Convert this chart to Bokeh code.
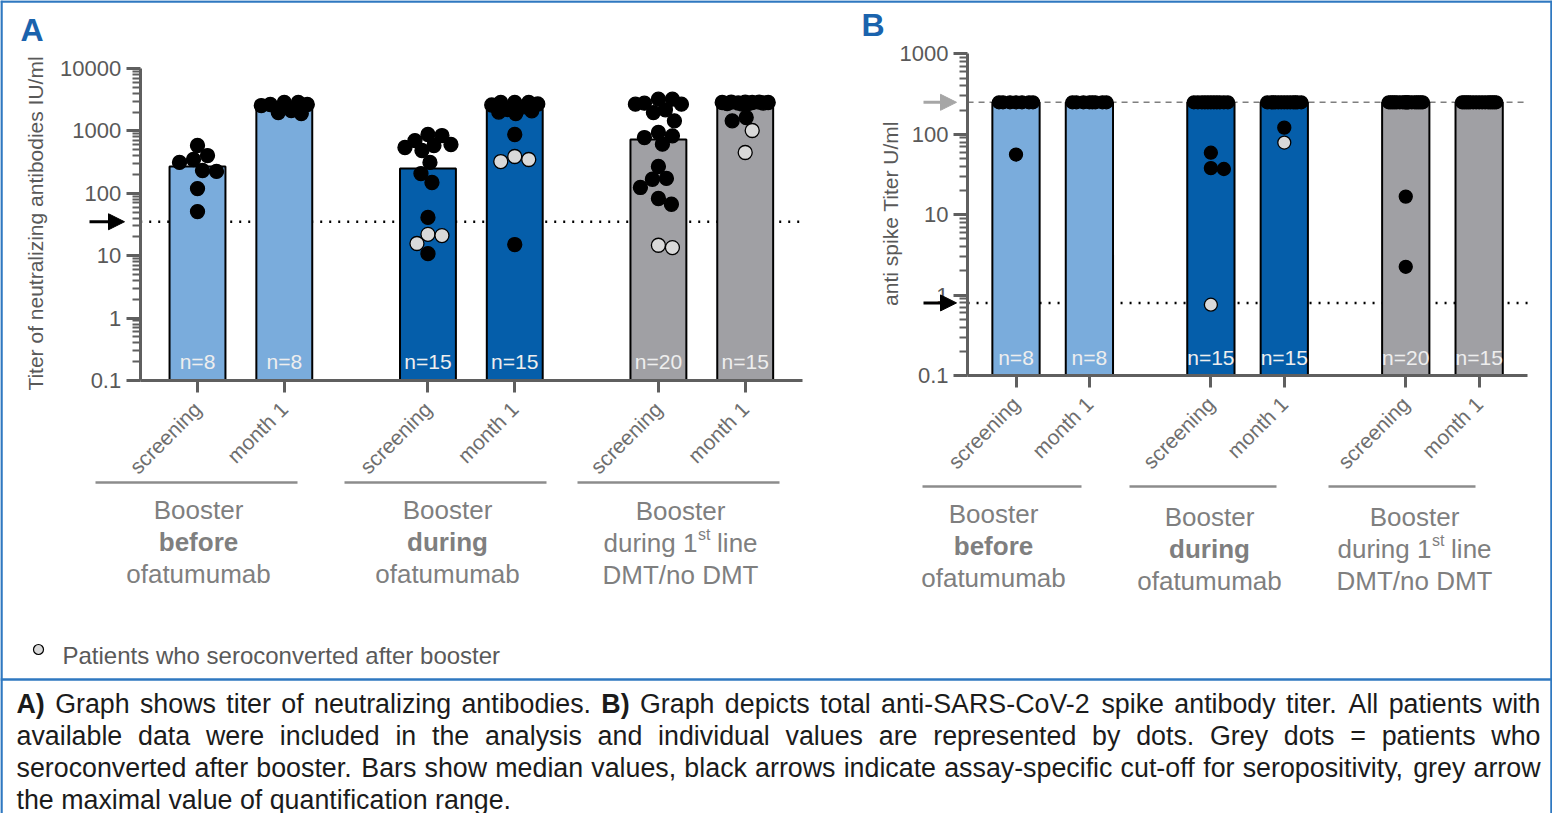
import math
from bokeh.plotting import figure
from bokeh.models import (Range1d, LogScale, LinearAxis, LogAxis, FixedTicker,
                          Arrow, NormalHead, ColumnDataSource)
from bokeh.embed import file_html
from bokeh.resources import INLINE
from bokeh.core.properties import value

FONT = "Liberation Sans"

# ------------------------------------------------------------------ data
timepoints = ["screening", "month 1"]
group_labels = [
    ["Booster", "before", "ofatumumab"],
    ["Booster", "during", "ofatumumab"],
    ["Booster", "during 1|st| line", "DMT/no DMT"],
]
bold_line = [True, True, False]

# Panel A: titer of neutralizing antibodies (IU/ml)
a_median = [270, 2600, 250, 2200, 730, 2650]
a_black = [
    [403, 348, 583, 312, 232, 224, 119, 51],
    [2120, 2850, 2650, 1970, 2850, 1900, 2550, 2650],
    [583, 605, 843, 875, 485, 542, 700, 312, 207, 149, 41, 10.8],
    [2850, 2600, 2850, 2400, 2850, 2000, 2200, 2700, 1900, 2100, 875, 15.1],
    [2680, 2780, 3220, 2680, 3220, 2180, 1970, 1450, 942, 834, 783, 612,
     269, 173, 168, 124, 82.6, 66.8],
    [2900, 2850, 2800, 2900, 2750, 2850, 2900, 2800, 2700, 2850, 2750, 1640, 1450],
]
a_grey = [[], [], [22, 21, 15.7], [389, 348, 323], [14.7, 13.5], [1014, 451]]
a_cutoff = 35
a_ticks = [0.1, 1, 10, 100, 1000, 10000]

# Panel B: anti spike titer (U/ml)
b_median = [250, 250, 250, 250, 250, 250]
b_black = [
    [250, 250, 250, 250, 250, 250, 250, 56],
    [250, 250, 250, 250, 250, 250, 250, 250],
    [250, 250, 250, 250, 250, 250, 250, 250, 250, 250, 250, 59, 38, 37],
    [250, 250, 250, 250, 250, 250, 250, 250, 250, 250, 250, 250, 250, 121],
    [250, 250, 250, 250, 250, 250, 250, 250, 250, 250, 250, 250, 250, 250,
     250, 250, 250, 250, 16.8, 2.25],
    [250, 250, 250, 250, 250, 250, 250, 250, 250, 250, 250, 250, 250, 250, 250],
]
b_grey = [[], [], [0.76], [79], [], []]
b_cutoff = 0.8
b_quant_max = 250
b_ticks = [0.1, 1, 10, 100, 1000]

bar_colors = ["#7aacdc", "#7aacdc", "#055eaa", "#055eaa", "#a0a0a4", "#a0a0a4"]

caption_lines = [
    "A) Graph shows titer of neutralizing antibodies. B) Graph depicts total anti-SARS-CoV-2 spike antibody titer. All patients with",
    "available data were included in the analysis and individual values are represented by dots. Grey dots = patients who",
    "seroconverted after booster. Bars show median values, black arrows indicate assay-specific cut-off for seropositivity, grey arrow",
    "the maximal value of quantification range.",
]
legend_text = "Patients who seroconverted after booster"

# ------------------------------------------------------------------ helpers
RW = {' ': 278, '!': 278, '"': 355, '#': 556, '$': 556, '%': 889, '&': 667, "'": 191,
      '(': 333, ')': 333, '*': 389, '+': 584, ',': 278, '-': 333, '.': 278, '/': 278,
      ':': 278, ';': 278, '<': 584, '=': 584, '>': 584, '?': 556, '@': 1015,
      'A': 667, 'B': 667, 'C': 722, 'D': 722, 'E': 667, 'F': 611, 'G': 778, 'H': 722,
      'I': 278, 'J': 500, 'K': 667, 'L': 556, 'M': 833, 'N': 722, 'O': 778, 'P': 667,
      'Q': 778, 'R': 722, 'S': 667, 'T': 611, 'U': 722, 'V': 667, 'W': 944, 'X': 667,
      'Y': 667, 'Z': 611, 'a': 556, 'b': 556, 'c': 500, 'd': 556, 'e': 556, 'f': 278,
      'g': 556, 'h': 556, 'i': 222, 'j': 222, 'k': 500, 'l': 222, 'm': 833, 'n': 556,
      'o': 556, 'p': 556, 'q': 556, 'r': 333, 's': 500, 't': 278, 'u': 556, 'v': 500,
      'w': 722, 'x': 500, 'y': 500, 'z': 500}
for _d in "0123456789":
    RW[_d] = 556
BW = dict(RW)
BW.update({'A': 722, 'B': 722, ')': 333})


def tw(s, size, bold=False):
    tab = BW if bold else RW
    return sum(tab.get(ch, 556) for ch in s) / 1000.0 * size


W, H = 1552, 813
BORDER = "#2f78c0"
p = figure(width=W, height=H, output_backend="svg", toolbar_location=None,
           x_axis_type=None, y_axis_type=None, min_border=0,
           x_range=Range1d(8, 1560), y_range=Range1d(821, 8),
           outline_line_color=None,
           background_fill_color="white", border_fill_color="white")


def txt(x, y, s, size, color, align="center", bold=False, xr="default", yr="default",
        angle=0.0, baseline="middle"):
    p.text(x=[x], y=[y], text=[s], text_font=value(FONT), text_font_size=f"{size}px",
           text_color=color, text_align=align, text_baseline=baseline,
           text_font_style="bold" if bold else "normal", angle=angle,
           x_range_name=xr, y_range_name=yr)


def swarm(vals, dec, diam, maxw):
    n = len(vals)
    order = sorted(range(n), key=lambda i: -vals[i])
    cands = sorted(range(-maxw, maxw + 1), key=lambda c: (abs(c), c < 0))
    placed, offs = [], [0.0] * n
    thr = (1.0 * diam) ** 2
    for i in order:
        y = math.log10(vals[i]) * dec
        best = None
        for c in cands:
            if all((c - px) ** 2 + (y - py) ** 2 >= thr for px, py in placed):
                best = c
                break
        if best is None:
            best = max(cands, key=lambda c: min((c - px) ** 2 + (y - py) ** 2
                                                 for px, py in placed))
        placed.append((best, y))
        offs[i] = best
    return offs


GROUP_STEP = 2.655
BAR_W = 0.644
XMIN, XMAX = -0.66, 6.97
xpos = [g * GROUP_STEP + t for g in range(3) for t in range(2)]
xlab = [timepoints[t] for g in range(3) for t in range(2)]

panels = {
    "a": dict(c0=205.0, unit=86.8, ybase=388.0, dec=62.4),
    "b": dict(c0=1023.5, unit=73.4, ybase=383.0, dec=80.4),
}
exr, eyr, eys = {}, {}, {}
for k, c in panels.items():
    exr["x" + k] = Range1d((8 - c["c0"]) / c["unit"], (1560 - c["c0"]) / c["unit"])
    lo = -1 - (821 - c["ybase"]) / c["dec"]
    hi = -1 + (c["ybase"] - 8) / c["dec"]
    eyr["y" + k] = Range1d(10 ** lo, 10 ** hi)
    eys["y" + k] = LogScale()
p.extra_x_ranges = exr
p.extra_y_ranges = eyr
p.extra_y_scales = eys

AX = "#5f5f5f"


def draw_panel(k, medians, blacks, greys, ticks, diam, maxw, n_y):
    c = panels[k]
    xn, yn = "x" + k, "y" + k
    # bars
    p.vbar(x=xpos, top=medians, bottom=ticks[0], width=BAR_W, fill_color=bar_colors,
           line_color="black", line_width=2, x_range_name=xn, y_range_name=yn)
    # dots
    xs, ys, fc = [], [], []
    for i in range(6):
        vals = blacks[i] + greys[i]
        offs = swarm(vals, c["dec"], diam, maxw)
        cols = ["black"] * len(blacks[i]) + ["#d9d9d9"] * len(greys[i])
        for v, o, col in zip(vals, offs, cols):
            xs.append(xpos[i] + o / c["unit"])
            ys.append(v)
            fc.append(col)
    idx = sorted(range(len(xs)), key=lambda j: fc[j] != "black")
    src = ColumnDataSource(dict(x=[xs[j] for j in idx], y=[ys[j] for j in idx],
                                fc=[fc[j] for j in idx]))
    p.scatter(x="x", y="y", source=src, size=diam, fill_color="fc", line_color="black",
              line_width=1.3, x_range_name=xn, y_range_name=yn)
    # n labels
    ns = [f"n={len(blacks[i]) + len(greys[i])}" for i in range(6)]
    p.text(x=xpos, y=[n_y] * 6, text=ns, text_font=value(FONT), text_font_size="21px",
           text_color="#eeeeee", text_align="center", text_baseline="middle",
           x_range_name=xn)
    # axes
    minors = [m * 10 ** e for e in range(int(round(math.log10(ticks[0]))),
                                          int(round(math.log10(ticks[-1]))))
              for m in range(2, 10)]
    yax = LogAxis(x_range_name=xn, y_range_name=yn, fixed_location=XMIN,
                  bounds=(ticks[0], ticks[-1]),
                  ticker=FixedTicker(ticks=ticks, minor_ticks=minors),
                  major_label_overrides={t: ("0.1" if t == 0.1 else str(int(t))) for t in ticks})
    yax.axis_line_color = AX
    yax.axis_line_width = 3
    yax.major_tick_line_color = AX
    yax.major_tick_line_width = 3
    yax.major_tick_out = 14
    yax.major_tick_in = 0
    yax.minor_tick_line_color = AX
    yax.minor_tick_line_width = 2
    yax.minor_tick_out = 8
    yax.minor_tick_in = 0
    yax.major_label_text_font = FONT
    yax.major_label_text_font_size = "22px"
    yax.major_label_text_color = "#595959"
    yax.major_label_standoff = 5
    p.add_layout(yax, "left")

    xax = LinearAxis(x_range_name=xn, y_range_name=yn, fixed_location=ticks[0],
                     bounds=(XMIN, XMAX), ticker=FixedTicker(ticks=xpos),
                     major_label_overrides={x: l for x, l in zip(xpos, xlab)},
                     major_label_orientation=math.pi / 4)
    xax.axis_line_color = AX
    xax.axis_line_width = 3
    xax.major_tick_line_color = AX
    xax.major_tick_line_width = 3
    xax.major_tick_out = 12
    xax.major_tick_in = 0
    xax.minor_tick_line_color = None
    xax.major_label_text_font = FONT
    xax.major_label_text_font_size = "21px"
    xax.major_label_text_color = "#6e6e6e"
    xax.major_label_standoff = 13
    p.add_layout(xax, "below")


# reference lines (under the bars)
p.line(x=[XMIN, XMAX], y=[a_cutoff, a_cutoff], line_color="black", line_width=2.5,
       line_dash="2 7", x_range_name="xa", y_range_name="ya")
p.line(x=[XMIN, XMAX], y=[b_cutoff, b_cutoff], line_color="black", line_width=2.5,
       line_dash="2 7", x_range_name="xb", y_range_name="yb")
p.line(x=[XMIN, XMAX], y=[b_quant_max, b_quant_max], line_color="#7f7f7f", line_width=1.5,
       line_dash="6 5", x_range_name="xb", y_range_name="yb")

draw_panel("a", a_median, a_black, a_grey, a_ticks, 14, 23, 369)
draw_panel("b", b_median, b_black, b_grey, b_ticks, 13, 17, 365)

# arrows
p.add_layout(Arrow(end=NormalHead(size=16, fill_color="black", line_color="black"),
                   x_start=97, x_end=132, y_start=a_cutoff, y_end=a_cutoff,
                   line_color="black", line_width=3, y_range_name="ya"))
p.add_layout(Arrow(end=NormalHead(size=16, fill_color="black", line_color="black"),
                   x_start=931, x_end=964, y_start=b_cutoff, y_end=b_cutoff,
                   line_color="black", line_width=3, y_range_name="yb"))
p.add_layout(Arrow(end=NormalHead(size=16, fill_color="#a6a6a6", line_color="#a6a6a6"),
                   x_start=931, x_end=964, y_start=b_quant_max, y_end=b_quant_max,
                   line_color="#a6a6a6", line_width=3, y_range_name="yb"))

# panel letters and axis titles
txt(28, 37, "A", 32, "#1a63ad", align="left", bold=True)
txt(869, 32, "B", 32, "#1a63ad", align="left", bold=True)
txt(43, 231, "Titer of neutralizing antibodies IU/ml", 21, "#595959", angle=math.pi / 2)
txt(898, 221, "anti spike Titer U/ml", 21, "#595959", angle=math.pi / 2)

# group labels
GL = "#7f7f7f"
group_layout = {
    "a": dict(cx=[206, 455, 688], spans=[(103, 305), (352, 554), (585, 787)], ly=490,
              ty=[[517, 549, 581], [517, 549, 581], [518, 550, 582]]),
    "b": dict(cx=[1001, 1217, 1422], spans=[(930, 1089), (1137, 1284), (1336, 1483)], ly=494,
              ty=[[521, 553, 585], [524, 556, 588], [524, 556, 588]]),
}
for k, gl in group_layout.items():
    p.segment(x0=[s[0] for s in gl["spans"]], x1=[s[1] for s in gl["spans"]],
              y0=[gl["ly"]] * 3, y1=[gl["ly"]] * 3, line_color="#8c8c8c", line_width=2.5)
    for g in range(3):
        cx = gl["cx"][g]
        for li, line in enumerate(group_labels[g]):
            y = gl["ty"][g][li]
            if "|" in line:
                a, sup, b = line.split("|")
                b = b.strip()
                wa, ws, wsp, wb = tw(a, 26), tw(sup, 16), tw(" ", 26), tw(b, 26)
                x0 = cx - (wa + ws + wsp + wb) / 2
                txt(x0, y, a, 26, GL, align="left")
                txt(x0 + wa + 0.5, y - 8, sup, 16, GL, align="left")
                txt(x0 + wa + ws + wsp, y, b, 26, GL, align="left")
            else:
                txt(cx, y, line, 26, GL, bold=(li == 1 and bold_line[g]))

# legend
p.scatter(x=[46], y=[657], size=10, fill_color="#d9d9d9", line_color="black", line_width=1.2)
txt(70, 663, legend_text, 24, "#595959", align="left")

# frame: top, left, right border and caption box separator
p.segment(x0=[8, 9, 1559, 8], x1=[1560, 9, 1559, 1560], y0=[9, 8, 8, 687],
          y1=[9, 821, 821, 687], line_color=BORDER, line_width=2.5)

# justified caption
CAP_SIZE = 26.8
CAP_L, CAP_R = 24, 1548
cap_y = [711, 743, 775, 807]
for li, line in enumerate(caption_lines):
    words = line.split(" ")
    bolds = [w_ in ("A)", "B)") for w_ in words]
    widths = [tw(w_, CAP_SIZE, b) for w_, b in zip(words, bolds)]
    if li < len(caption_lines) - 1:
        gap = (CAP_R - CAP_L - sum(widths)) / (len(words) - 1)
    else:
        gap = tw(" ", CAP_SIZE)
    x = CAP_L
    for w_, wd, b in zip(words, widths, bolds):
        txt(x, cap_y[li], w_, CAP_SIZE, "#1b1b1b", align="left", bold=b)
        x += wd + gap

open("out.html", "w").write(file_html(p, INLINE))
